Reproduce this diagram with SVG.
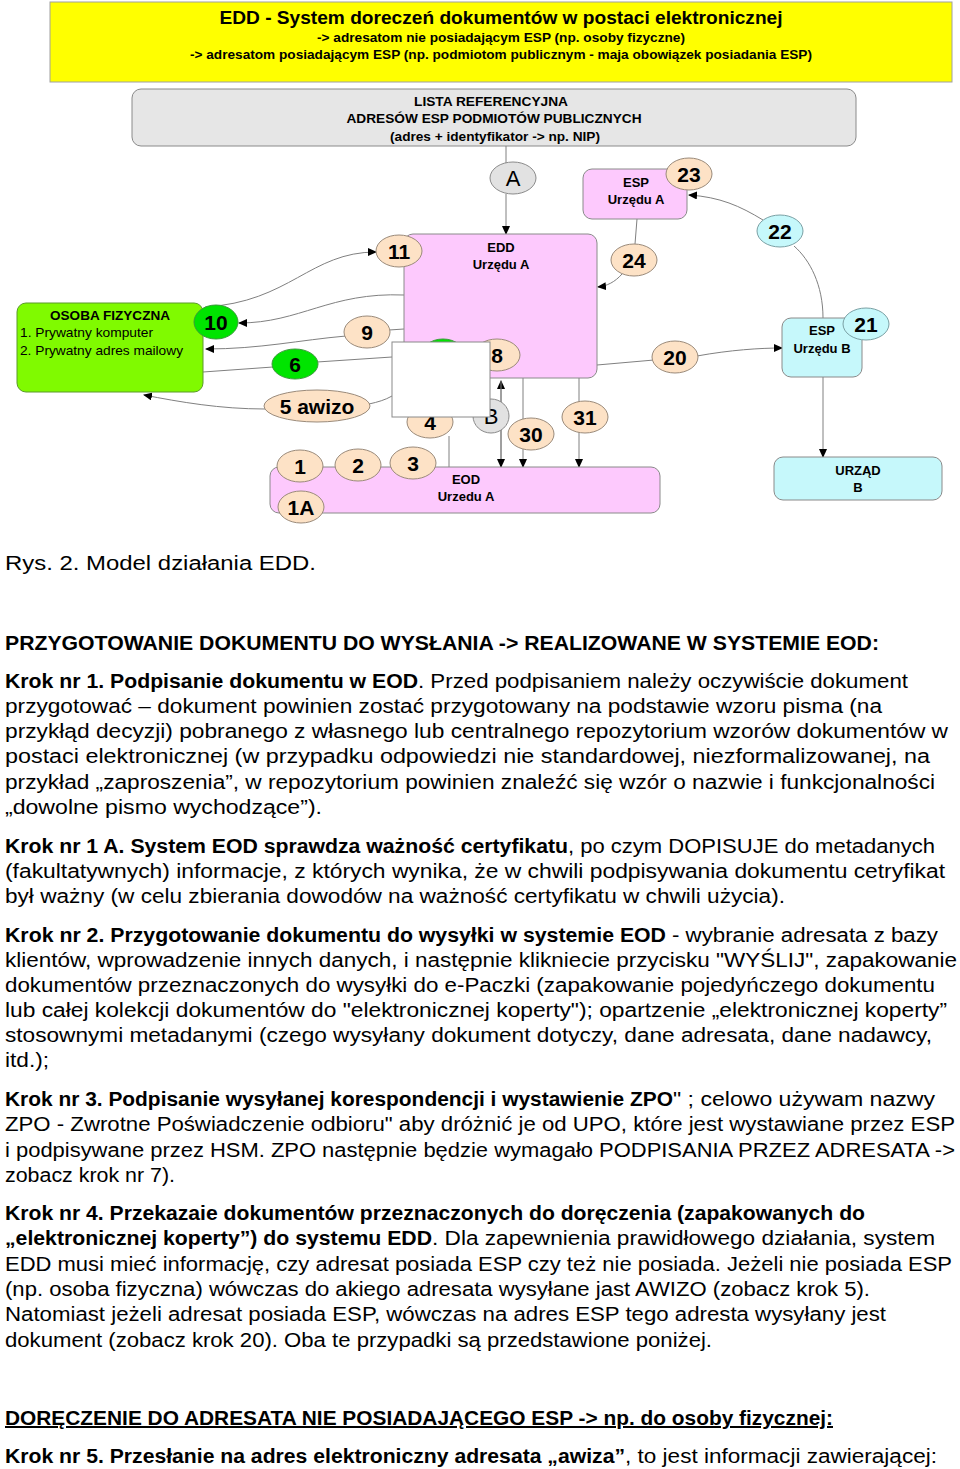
<svg xmlns="http://www.w3.org/2000/svg" width="960" height="1469" viewBox="0 0 960 1469">
<style>
.bx{stroke:#8a8a8a;stroke-width:1}
.pink{fill:#fdc9fd}
.cyan{fill:#c6f8fb}
.peach{fill:#fde2c6;stroke:#9a8a7a;stroke-width:1}
.grn{fill:#00e400;stroke:#3a9a3a;stroke-width:1}
.gry{fill:#e2e2e2;stroke:#8a8a8a;stroke-width:1}
.cy{fill:#c6f8fb;stroke:#7aa0a4;stroke-width:1}
.num{font-family:"Liberation Sans",Arial,sans-serif;font-weight:bold;font-size:21px;fill:#000;text-anchor:middle}
.lbl{font-family:"Liberation Sans",Arial,sans-serif;font-weight:bold;font-size:13px;fill:#000;text-anchor:middle}
.con{fill:none;stroke:#808080;stroke-width:1}
.t{font-family:"Liberation Sans",Arial,sans-serif;font-size:20px;fill:#000}
.b{font-family:"Liberation Sans",Arial,sans-serif;font-size:20px;font-weight:bold;fill:#000}
</style>
<defs>
<marker id="ar" markerWidth="9" markerHeight="8" refX="8" refY="4" orient="auto" markerUnits="userSpaceOnUse">
<path d="M0,0 L9,4 L0,8 Z" fill="#000"/>
</marker>
</defs>
<rect width="960" height="1469" fill="#fff"/>

<g id="title">
<rect x="50" y="2" width="902" height="80" fill="#ffff00" stroke="#a0a0a0"/>
<text x="501" y="24" font-family="Liberation Sans,Arial,sans-serif" font-weight="bold" font-size="18" text-anchor="middle" textLength="563" lengthAdjust="spacingAndGlyphs">EDD - System doreczeń dokumentów w postaci elektronicznej</text>
<text x="501" y="42" font-family="Liberation Sans,Arial,sans-serif" font-weight="bold" font-size="13" text-anchor="middle" textLength="368" lengthAdjust="spacingAndGlyphs">-&gt; adresatom nie posiadającym ESP (np. osoby fizyczne)</text>
<text x="501" y="59" font-family="Liberation Sans,Arial,sans-serif" font-weight="bold" font-size="13" text-anchor="middle" textLength="622" lengthAdjust="spacingAndGlyphs">-&gt; adresatom posiadającym ESP (np. podmiotom publicznym - maja obowiązek posiadania ESP)</text>
</g>

<g id="lista">
<rect x="132" y="89" width="724" height="57" rx="9" fill="#e6e6e6" stroke="#8a8a8a"/>
<text class="lbl" x="491" y="106" textLength="154" lengthAdjust="spacingAndGlyphs">LISTA REFERENCYJNA</text>
<text class="lbl" x="494" y="123" textLength="295" lengthAdjust="spacingAndGlyphs">ADRESÓW ESP PODMIOTÓW PUBLICZNYCH</text>
<text class="lbl" x="495" y="141" textLength="210" lengthAdjust="spacingAndGlyphs">(adres + identyfikator -&gt; np. NIP)</text>
</g>

<g id="connectors">
<path class="con" d="M506,146 L506,163"/>
<path class="con" d="M506,194 L506,234" marker-end="url(#ar)"/>
<path class="con" d="M205,307 C290,302 310,252 376,252" marker-end="url(#ar)"/>
<path class="con" d="M404,295 C330,292 300,323 239,323" marker-end="url(#ar)"/>
<path class="con" d="M404,329 L389,330"/>
<path class="con" d="M346,336 C300,340 260,349 206,349" marker-end="url(#ar)"/>
<path class="con" d="M392,357 L317,362"/>
<path class="con" d="M273,367 L203,372"/>
<path class="con" d="M392,396 C385,400 378,402 369,404"/>
<path class="con" d="M265,409 C220,409 180,402 144,395" marker-end="url(#ar)"/>
<path class="con" d="M449,436 L449,467"/>
<path class="con" d="M501,467 L501,381" marker-end="url(#ar)"/>
<path class="con" d="M501,381 L501,467" marker-end="url(#ar)"/>
<path class="con" d="M523,378 L523,467" marker-end="url(#ar)"/>
<path class="con" d="M579,378 L579,467" marker-end="url(#ar)"/>
<path class="con" d="M597,365 L654,360"/>
<path class="con" d="M697,356 C730,350 760,348 782,348" marker-end="url(#ar)"/>
<path class="con" d="M823,377 L823,457" marker-end="url(#ar)"/>
<path class="con" d="M823,318 C823,285 810,260 794,246"/>
<path class="con" d="M763,220 C740,206 720,197 689,195" marker-end="url(#ar)"/>
<path class="con" d="M637,219 L635,244"/>
<path class="con" d="M622,274 C615,282 607,286 598,287" marker-end="url(#ar)"/>
</g>

<g id="edd">
<rect class="pink bx" x="404" y="234" width="193" height="144" rx="9"/>
<text class="lbl" x="501" y="252">EDD</text>
<text class="lbl" x="501" y="269">Urzędu A</text>
</g>

<g id="eod">
<rect class="pink bx" x="270" y="467" width="390" height="46" rx="9"/>
<text class="lbl" x="466" y="484">EOD</text>
<text class="lbl" x="466" y="501">Urzedu A</text>
</g>

<g id="osoba">
<rect x="17" y="303" width="186" height="89" rx="9" fill="#80fa00" stroke="#5a9a2a"/>
<text class="lbl" x="110" y="320" textLength="120" lengthAdjust="spacingAndGlyphs">OSOBA FIZYCZNA</text>
<text x="20" y="337" font-family="Liberation Sans,Arial,sans-serif" font-size="13" textLength="133" lengthAdjust="spacingAndGlyphs">1. Prywatny komputer</text>
<text x="20" y="355" font-family="Liberation Sans,Arial,sans-serif" font-size="13" textLength="163" lengthAdjust="spacingAndGlyphs">2. Prywatny adres mailowy</text>
</g>

<g id="espA">
<rect class="pink bx" x="583" y="169" width="104" height="50" rx="9"/>
<text class="lbl" x="636" y="187">ESP</text>
<text class="lbl" x="636" y="204">Urzędu A</text>
</g>

<g id="espB">
<rect class="cyan bx" x="782" y="318" width="80" height="59" rx="9"/>
<text class="lbl" x="822" y="335">ESP</text>
<text class="lbl" x="822" y="353">Urzędu B</text>
</g>

<g id="urzadB">
<rect class="cyan bx" x="774" y="457" width="168" height="43" rx="9"/>
<text class="lbl" x="858" y="475">URZĄD</text>
<text class="lbl" x="858" y="492">B</text>
</g>

<g id="nA"><ellipse class="gry" cx="513" cy="178" rx="23" ry="16"/><text x="513" y="186" font-family="Liberation Sans,Arial,sans-serif" font-size="22" text-anchor="middle">A</text></g>
<g id="n11"><ellipse class="peach" cx="399" cy="251" rx="23" ry="16"/><text class="num" x="399" y="259">11</text></g>
<g id="n23"><ellipse class="peach" cx="689" cy="174" rx="23" ry="16"/><text class="num" x="689" y="182">23</text></g>
<g id="n24"><ellipse class="peach" cx="634" cy="260" rx="23" ry="16"/><text class="num" x="634" y="268">24</text></g>
<g id="n22"><ellipse class="cy" cx="780" cy="231" rx="23" ry="16"/><text class="num" x="780" y="239">22</text></g>
<g id="n21"><ellipse class="cy" cx="866" cy="324" rx="23" ry="16"/><text class="num" x="866" y="332">21</text></g>
<g id="n20"><ellipse class="peach" cx="675" cy="357" rx="23" ry="16"/><text class="num" x="675" y="365">20</text></g>
<g id="n10"><ellipse class="grn" cx="216" cy="322" rx="22" ry="17"/><text class="num" x="216" y="330">10</text></g>
<g id="n9"><ellipse class="peach" cx="367" cy="332" rx="23" ry="16"/><text class="num" x="367" y="340">9</text></g>
<g id="n6"><ellipse class="grn" cx="295" cy="364" rx="23" ry="15"/><text class="num" x="295" y="372">6</text></g>
<g id="n5"><ellipse class="peach" cx="317" cy="406" rx="53" ry="16"/><text class="num" x="317" y="414">5 awizo</text></g>
<g id="n7"><ellipse class="grn" cx="443" cy="356" rx="22" ry="17"/></g>
<g id="n8"><ellipse class="peach" cx="497" cy="355" rx="23" ry="16"/><text class="num" x="497" y="363">8</text></g>
<g id="n4"><ellipse class="peach" cx="430" cy="422" rx="23" ry="16"/><text class="num" x="430" y="430">4</text></g>
<g id="nB"><ellipse class="gry" cx="491" cy="416" rx="18" ry="17"/><text x="491" y="424" font-family="Liberation Sans,Arial,sans-serif" font-size="22" text-anchor="middle">B</text></g>
<g id="n30"><ellipse class="peach" cx="531" cy="434" rx="23" ry="16"/><text class="num" x="531" y="442">30</text></g>
<g id="n31"><ellipse class="peach" cx="585" cy="417" rx="23" ry="16"/><text class="num" x="585" y="425">31</text></g>
<g id="n1"><ellipse class="peach" cx="300" cy="466" rx="23" ry="16"/><text class="num" x="300" y="474">1</text></g>
<g id="n2"><ellipse class="peach" cx="358" cy="465" rx="23" ry="16"/><text class="num" x="358" y="473">2</text></g>
<g id="n3"><ellipse class="peach" cx="413" cy="463" rx="23" ry="16"/><text class="num" x="413" y="471">3</text></g>
<g id="n1A"><ellipse class="peach" cx="301" cy="507" rx="23" ry="16"/><text class="num" x="301" y="515">1A</text></g>

<g id="blank">
<rect x="392" y="342" width="98" height="75" fill="#fff" stroke="#8a8a8a"/>
</g>

<g id="text">
<text class="t" x="5" y="570" textLength="311" lengthAdjust="spacingAndGlyphs">Rys. 2. Model działania EDD.</text>
<text class="b" x="5" y="650" textLength="874" lengthAdjust="spacingAndGlyphs">PRZYGOTOWANIE DOKUMENTU DO WYSŁANIA -&gt; REALIZOWANE W SYSTEMIE EOD:</text>

<text class="b" x="5" y="688" textLength="413" lengthAdjust="spacingAndGlyphs">Krok nr 1. Podpisanie dokumentu w EOD</text>
<text class="t" x="418" y="688" textLength="490" lengthAdjust="spacingAndGlyphs">. Przed podpisaniem należy oczywiście dokument</text>
<text class="t" x="5" y="713" textLength="877" lengthAdjust="spacingAndGlyphs">przygotować – dokument powinien zostać przygotowany na podstawie wzoru pisma (na</text>
<text class="t" x="5" y="738" textLength="943" lengthAdjust="spacingAndGlyphs">przykłąd decyzji) pobranego z własnego lub centralnego repozytorium wzorów dokumentów w</text>
<text class="t" x="5" y="763" textLength="925" lengthAdjust="spacingAndGlyphs">postaci elektronicznej (w przypadku odpowiedzi nie standardowej, niezformalizowanej, na</text>
<text class="t" x="5" y="789" textLength="930" lengthAdjust="spacingAndGlyphs">przykład „zaproszenia”, w repozytorium powinien znaleźć się wzór o nazwie i funkcjonalności</text>
<text class="t" x="5" y="814" textLength="317" lengthAdjust="spacingAndGlyphs">„dowolne pismo wychodzące”).</text>

<text class="b" x="5" y="853" textLength="563" lengthAdjust="spacingAndGlyphs">Krok nr 1 A. System EOD sprawdza ważność certyfikatu</text>
<text class="t" x="568" y="853" textLength="367" lengthAdjust="spacingAndGlyphs">, po czym DOPISUJE do metadanych</text>
<text class="t" x="5" y="878" textLength="940" lengthAdjust="spacingAndGlyphs">(fakultatywnych) informacje, z których wynika, że w chwili podpisywania dokumentu cetryfikat</text>
<text class="t" x="5" y="903" textLength="780" lengthAdjust="spacingAndGlyphs">był ważny (w celu zbierania dowodów na ważność certyfikatu w chwili użycia).</text>

<text class="b" x="5" y="942" textLength="661" lengthAdjust="spacingAndGlyphs">Krok nr 2. Przygotowanie dokumentu do wysyłki w systemie EOD</text>
<text class="t" x="672" y="942" textLength="266" lengthAdjust="spacingAndGlyphs">- wybranie adresata z bazy</text>
<text class="t" x="5" y="967" textLength="952" lengthAdjust="spacingAndGlyphs">klientów, wprowadzenie innych danych, i następnie klikniecie przycisku "WYŚLIJ", zapakowanie</text>
<text class="t" x="5" y="992" textLength="930" lengthAdjust="spacingAndGlyphs">dokumentów przeznaczonych do wysyłki do e-Paczki (zapakowanie pojedyńczego dokumentu</text>
<text class="t" x="5" y="1017" textLength="942" lengthAdjust="spacingAndGlyphs">lub całej kolekcji dokumentów do "elektronicznej koperty"); opartzenie „elektronicznej koperty”</text>
<text class="t" x="5" y="1042" textLength="927" lengthAdjust="spacingAndGlyphs">stosownymi metadanymi (czego wysyłany dokument dotyczy, dane adresata, dane nadawcy,</text>
<text class="t" x="5" y="1067" textLength="44" lengthAdjust="spacingAndGlyphs">itd.);</text>

<text class="b" x="5" y="1106" textLength="668" lengthAdjust="spacingAndGlyphs">Krok nr 3. Podpisanie wysyłanej korespondencji i wystawienie ZPO</text>
<text class="t" x="673" y="1106" textLength="262" lengthAdjust="spacingAndGlyphs">" ; celowo używam nazwy</text>
<text class="t" x="5" y="1131" textLength="950" lengthAdjust="spacingAndGlyphs">ZPO - Zwrotne Poświadczenie odbioru" aby dróżnić je od UPO, które jest wystawiane przez ESP</text>
<text class="t" x="5" y="1157" textLength="950" lengthAdjust="spacingAndGlyphs">i podpisywane przez HSM. ZPO następnie będzie wymagało PODPISANIA PRZEZ ADRESATA -&gt;</text>
<text class="t" x="5" y="1182" textLength="170" lengthAdjust="spacingAndGlyphs">zobacz krok nr 7).</text>

<text class="b" x="5" y="1220" textLength="860" lengthAdjust="spacingAndGlyphs">Krok nr 4. Przekazaie dokumentów przeznaczonych do doręczenia (zapakowanych do</text>
<text class="b" x="5" y="1245" textLength="427" lengthAdjust="spacingAndGlyphs">„elektronicznej koperty”) do systemu EDD</text>
<text class="t" x="432" y="1245" textLength="503" lengthAdjust="spacingAndGlyphs">. Dla zapewnienia prawidłowego działania, system</text>
<text class="t" x="5" y="1271" textLength="947" lengthAdjust="spacingAndGlyphs">EDD musi mieć informację, czy adresat posiada ESP czy też nie posiada. Jeżeli nie posiada ESP</text>
<text class="t" x="5" y="1296" textLength="865" lengthAdjust="spacingAndGlyphs">(np. osoba fizyczna) wówczas do akiego adresata wysyłane jast AWIZO (zobacz krok 5).</text>
<text class="t" x="5" y="1321" textLength="881" lengthAdjust="spacingAndGlyphs">Natomiast jeżeli adresat posiada ESP, wówczas na adres ESP tego adresta wysyłany jest</text>
<text class="t" x="5" y="1347" textLength="707" lengthAdjust="spacingAndGlyphs">dokument (zobacz krok 20). Oba te przypadki są przedstawione poniżej.</text>

<text class="b" x="5" y="1425" textLength="828" lengthAdjust="spacingAndGlyphs" text-decoration="underline">DORĘCZENIE DO ADRESATA NIE POSIADAJĄCEGO ESP -&gt; np. do osoby fizycznej:</text>
<text class="b" x="5" y="1463" textLength="620" lengthAdjust="spacingAndGlyphs">Krok nr 5. Przesłanie na adres elektroniczny adresata „awiza”</text>
<text class="t" x="625" y="1463" textLength="312" lengthAdjust="spacingAndGlyphs">, to jest informacji zawierającej:</text>
</g>
</svg>
